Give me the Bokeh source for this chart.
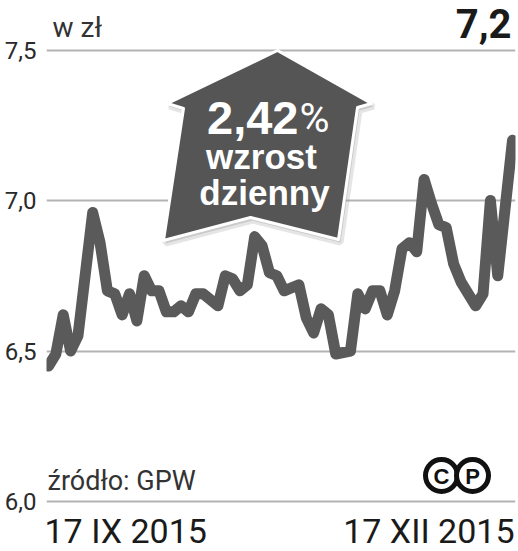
from bokeh.plotting import figure
from bokeh.models import FixedTicker, Range1d, CustomJSTickFormatter
from bokeh.core.properties import value
from bokeh.embed import file_html
from bokeh.resources import INLINE

# ---------------- data ----------------
day_index = [0, 1, 2, 3, 4, 6, 7, 8, 9, 10, 11, 12, 13, 14, 15, 16, 17, 18, 19, 20,
             21, 23, 24, 25, 26, 27, 28, 29, 30, 31, 32, 34, 35, 36, 37, 38, 39, 41,
             42, 43, 44, 45, 46, 47, 48, 49, 50, 51, 52, 53, 54, 55, 56, 58, 59, 60,
             61, 63]
price = [6.45, 6.49, 6.62, 6.50, 6.55, 6.96, 6.86, 6.70, 6.69, 6.62, 6.69, 6.60,
         6.75, 6.70, 6.70, 6.63, 6.63, 6.65, 6.63, 6.69, 6.69, 6.65, 6.75, 6.74,
         6.70, 6.72, 6.88, 6.85, 6.76, 6.75, 6.70, 6.72, 6.61, 6.56, 6.64, 6.62,
         6.49, 6.50, 6.69, 6.64, 6.70, 6.70, 6.62, 6.70, 6.84, 6.86, 6.83, 7.07,
         6.99, 6.92, 6.91, 6.79, 6.73, 6.65, 6.69, 7.00, 6.75, 7.20]
y_ticks = [6.0, 6.5, 7.0, 7.5]
date_labels = ["17 IX 2015", "17 XII 2015"]
unit_label = "w zł"
last_value_label = "7,2"
change_label = "2,42"
change_lines = ["wzrost", "dzienny"]
source_label = "źródło: GPW"

# ---------------- layout ----------------
FIG_W, FIG_H = 518, 551
LEFT, RIGHT = 46, 3
PXX = 466 / 63.27          # px per day
PXY = 301.0                # px per zł
X0 = -0.27
X1 = X0 + (FIG_W - LEFT - RIGHT) / PXX
Y1 = 7.5 + 49.5 / PXY
Y0 = Y1 - FIG_H / PXY


def rx(px):  # reference-pixel x -> data x
    return X0 + (px - LEFT) / PXX


def ry(py):  # reference-pixel y -> data y
    return Y1 - py / PXY


p = figure(width=FIG_W, height=FIG_H, output_backend="svg", toolbar_location=None,
           x_range=Range1d(X0, X1), y_range=Range1d(Y0, Y1),
           min_border_left=LEFT, min_border_right=RIGHT, min_border_top=0,
           min_border_bottom=0, x_axis_location=None)
p.outline_line_color = None
p.background_fill_color = "white"
p.border_fill_color = "white"
p.xgrid.visible = False
p.ygrid.grid_line_color = "#b3b3b3"
p.ygrid.grid_line_width = 2
p.yaxis.ticker = FixedTicker(ticks=y_ticks)
p.yaxis.formatter = CustomJSTickFormatter(code="return tick.toFixed(1).replace('.', ',');")
p.yaxis.axis_line_color = None
p.yaxis.major_tick_line_color = None
p.yaxis.minor_tick_line_color = None
p.yaxis.major_tick_out = 0
p.yaxis.major_label_standoff = 10
p.yaxis.major_label_text_font = "Roboto"
p.yaxis.major_label_text_font_size = "24px"
p.yaxis.major_label_text_color = "#2a2a2a"

# price line
p.line(day_index, price, line_color="#5a5a5a", line_width=11,
       line_join="round", line_cap="round")

# arrow badge
poly = [(277, 50), (371, 103), (357, 107), (338, 239), (250, 217),
        (163, 240), (183, 108), (167, 103)]
sx = [rx(a + 2) for a, b in poly]
sy = [ry(b + 3) for a, b in poly]
p.patch(sx, sy, fill_color="#999999", fill_alpha=0.35, line_color="#999999",
        line_alpha=0.25, line_width=6)
p.patch([rx(a) for a, b in poly], [ry(b) for a, b in poly], fill_color="#555555",
        line_color="white", line_width=3, line_join="round")

bold = value("Liberation Sans")
p.text([rx(298)], [ry(117)], text=[change_label], text_font=bold,
       text_font_style="bold", text_font_size="47px", text_color="white",
       text_align="right", text_baseline="middle")
p.text([rx(299)], [ry(117)], text=["%"], text_font=value("Roboto"),
       text_font_size="41px", text_color="white",
       text_align="left", text_baseline="middle")
p.text([rx(261), rx(264)], [ry(156), ry(192)], text=change_lines, text_font=bold,
       text_font_style="bold", text_font_size="35px", text_color="white",
       text_align="center", text_baseline="middle")

# header texts
p.text([rx(52)], [ry(27)], text=[unit_label], text_font=value("Roboto"),
       text_font_size="28px", text_color="#333333", text_baseline="middle")
p.text([rx(511)], [ry(23)], text=[last_value_label],
       text_font=value("Roboto"), text_font_style="bold",
       text_font_size="40px", text_color="#1a1a1a", text_align="right",
       text_baseline="middle")

# footer texts
p.text([rx(47)], [ry(480)], text=[source_label], text_font=value("Roboto"),
       text_font_size="27px", text_color="#333333", text_baseline="middle")
p.text([rx(44), rx(514)], [ry(530)] * 2, text=date_labels,
       text_font=value("Roboto"), text_font_size="34px", text_color="#1a1a1a",
       text_align=["left", "right"], text_baseline="middle")

# (C)(P) marks
p.scatter([rx(441), rx(472)], [ry(475), ry(475)], size=32, marker="circle",
          fill_color="white", line_color="#111111", line_width=5)
p.text([rx(441), rx(472)], [ry(476), ry(476)], text=["C", "P"], text_font=bold,
       text_font_style="bold", text_font_size="22px", text_color="#111111",
       text_align="center", text_baseline="middle")

open("out.html", "w").write(file_html(p, INLINE))
